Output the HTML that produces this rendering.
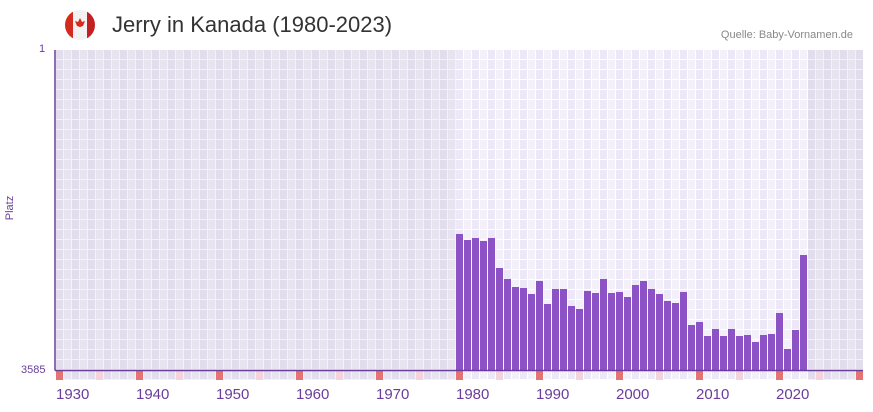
<!DOCTYPE html>
<html><head><meta charset="utf-8"><style>
body{margin:0;width:873px;height:412px;background:#fff;position:relative;overflow:hidden;font-family:"Liberation Sans",sans-serif}
.t{position:absolute;white-space:nowrap}
</style></head><body>
<svg width="873" height="412" style="position:absolute;left:0;top:0">
<defs>
<pattern id="gOut" x="56" y="50" width="16" height="10" patternUnits="userSpaceOnUse">
<rect width="8" height="10" fill="#e2ddec"/><rect x="8" width="8" height="10" fill="#e7e3ef"/>
<rect x="7" width="1" height="10" fill="#f4f2f8"/><rect x="15" width="1" height="10" fill="#f4f2f8"/><rect y="9" width="16" height="1" fill="#f4f2f8"/>
</pattern>
<pattern id="gIn" x="56" y="50" width="16" height="10" patternUnits="userSpaceOnUse">
<rect width="8" height="10" fill="#ede8f7"/><rect x="8" width="8" height="10" fill="#f3f0fa"/>
<rect x="7" width="1" height="10" fill="#ffffff"/><rect x="15" width="1" height="10" fill="#ffffff"/><rect y="9" width="16" height="1" fill="#ffffff"/>
</pattern>
<clipPath id="fc"><circle cx="80" cy="25" r="15"/></clipPath>
</defs>
<rect x="56" y="50" width="807" height="330" fill="url(#gOut)"/>
<rect x="456" y="50" width="352" height="330" fill="url(#gIn)"/>
<g id="bars" fill="#8c52c6"></g>
<g id="marks"></g>
<line x1="55" y1="50" x2="55" y2="370.5" stroke="#6a3d9a" stroke-width="1.5"/>
<line x1="55" y1="370.5" x2="863" y2="370.5" stroke="#6a3d9a" stroke-width="1.5"/>
<g clip-path="url(#fc)">
<rect x="65" y="10" width="30" height="30" fill="#f2f2f2"/>
<rect x="65" y="10" width="8" height="30" fill="#d52b1e"/>
<rect x="87" y="10" width="8" height="30" fill="#c42020"/>
</g>
<path d="M80 18 L82 22 L85 21 L83 26 L80 27 L77 26 L75 21 L78 22 Z" fill="#d52b1e"/>
</svg>
<div class="t" style="left:112px;top:12px;font-size:22px;color:#333">Jerry in Kanada (1980-2023)</div>
<div class="t" style="right:20px;top:29px;font-size:11px;color:#888">Quelle: Baby-Vornamen.de</div>
<div class="t" style="left:39px;top:43px;font-size:11px;color:#6a3d9a">1</div>
<div class="t" style="left:21px;top:364px;font-size:11px;color:#6a3d9a">3585</div>
<div class="t" style="left:-2px;top:202px;font-size:11px;color:#6a3d9a;transform:rotate(-90deg)">Platz</div>
<div id="labels"></div>
<script>
var tops=[234,240,238,241,238,268,279,287,288,294,281,304,289,289,306,309,291,293,279,293,292,297,285,281,289,294,301,303,292,325,322,336,329,336,329,336,335,342,335,334,313,349,330,255];
var s='';for(var i=0;i<tops.length;i++){var x=456+i*8;s+='<rect x="'+x+'" y="'+tops[i]+'" width="7" height="'+(370-tops[i])+'"/>';}
document.getElementById('bars').innerHTML=s;
var m='',l='';
for(var y=1930;y<=2030;y+=5){var x=56+(y-1930)*8;if(x>856)break;m+='<rect x="'+x+'" y="371" width="7" height="9" fill="'+(y%10==0?'#e57373':'#f4d4dc')+'"/>';}
document.getElementById('marks').innerHTML=m;
for(var y=1930;y<=2020;y+=10){var x=56+(y-1930)*8;l+='<div class="t" style="left:'+x+'px;top:386px;font-size:15px;color:#6a3d9a">'+y+'</div>';}
document.getElementById('labels').innerHTML=l;
</script>
</body></html>
